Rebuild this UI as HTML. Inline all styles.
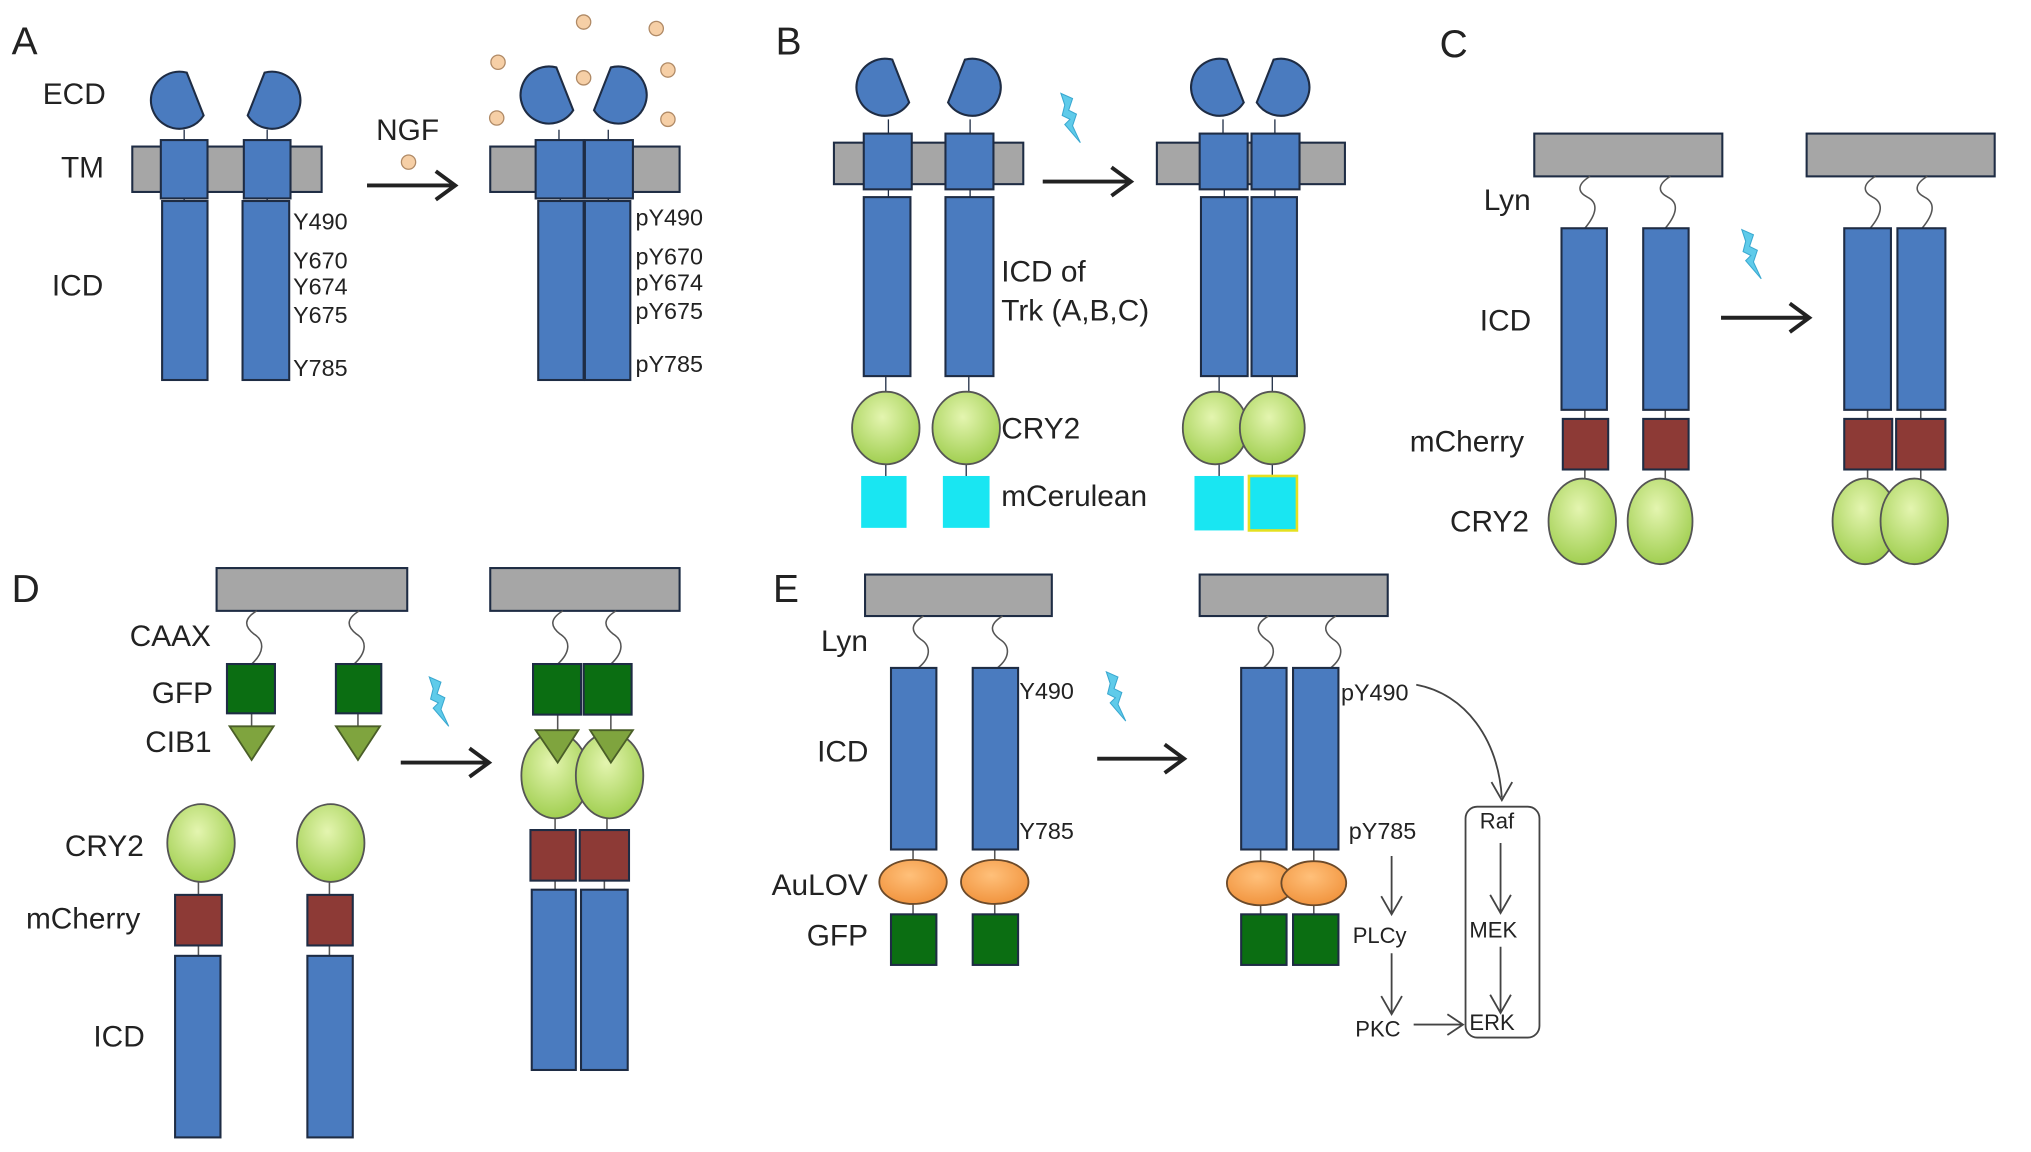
<!DOCTYPE html>
<html><head><meta charset="utf-8"><style>html,body{margin:0;padding:0;background:#fff}svg{display:block}</style></head>
<body>
<svg width="2031" height="1152" viewBox="0 0 1566 888" preserveAspectRatio="xMinYMin meet" xmlns="http://www.w3.org/2000/svg" font-family="'Liberation Sans', sans-serif" fill="#222">
<defs>
<radialGradient id="cg" cx="0.45" cy="0.35" r="0.7"><stop offset="0" stop-color="#e4f5b0"/><stop offset="1" stop-color="#9ccc4a"/></radialGradient>
<radialGradient id="og" cx="0.45" cy="0.35" r="0.7"><stop offset="0" stop-color="#ffc07a"/><stop offset="1" stop-color="#f0913a"/></radialGradient>
<path id="ecd" d="M6,-22 A22,22 0 1 0 19,11 Z" fill="#4a7bbf" stroke="#1e2c44" stroke-width="1.6"/>
<polygon id="bolt" points="0,0 9,4 6,13 12,16 9,25 15,38 3,24 7,20 1,17 3,9" fill="#5fcbea" stroke="#3aa8d0" stroke-width="0.8"/>
<circle id="bead" r="5.5" fill="#f6cfa6" stroke="#b08a66" stroke-width="1"/>
</defs>
<g stroke="#1e2c44" stroke-width="1.6">
<!-- PANEL A -->
<g fill="#a6a6a6"><rect x="102" y="113" width="146" height="35"/><rect x="378" y="113" width="146" height="35"/></g>
<g stroke-width="1" fill="none"><path d="M142,100V108M206,100V108M142,153V156M206,153V156M431,100V108M469,100V108M432,153V156M469,153V156"/></g>
<use href="#ecd" x="138" y="78"/><use href="#ecd" transform="translate(210,78) scale(-1,1)"/>
<use href="#ecd" x="423" y="74"/><use href="#ecd" transform="translate(477,74) scale(-1,1)"/>
<g fill="#4a7bbf">
<rect x="124" y="108" width="36" height="45"/><rect x="188" y="108" width="36" height="45"/>
<rect x="125" y="155" width="35" height="138"/><rect x="187" y="155" width="36" height="138"/>
<rect x="413" y="108" width="37" height="45"/><rect x="451" y="108" width="37" height="45"/>
<rect x="415" y="155" width="35" height="138"/><rect x="451" y="155" width="35" height="138"/>
</g>
<!-- PANEL B -->
<g fill="#a6a6a6"><rect x="643" y="110" width="146" height="32"/><rect x="892" y="110" width="145" height="32"/></g>
<g stroke-width="1" fill="none"><path d="M685,92V103M748,92V103M685,146V152M748,146V152M683,290V302M747,290V302M683,358V367M745,358V367M943,92V103M983,92V103M944,146V152M983,146V152M940,290V302M981,290V302M940,358V367M981,358V367"/></g>
<use href="#ecd" x="682" y="68"/><use href="#ecd" transform="translate(750,68) scale(-1,1)"/>
<use href="#ecd" x="940" y="68"/><use href="#ecd" transform="translate(988,68) scale(-1,1)"/>
<g fill="#4a7bbf">
<rect x="666" y="103" width="37" height="43"/><rect x="729" y="103" width="37" height="43"/>
<rect x="666" y="152" width="36" height="138"/><rect x="729" y="152" width="37" height="138"/>
<rect x="925" y="103" width="37" height="43"/><rect x="965" y="103" width="37" height="43"/>
<rect x="926" y="152" width="36" height="138"/><rect x="965" y="152" width="35" height="138"/>
</g>
<g fill="url(#cg)" stroke="#555" stroke-width="1.4">
<ellipse cx="683" cy="330" rx="26" ry="28"/><ellipse cx="745" cy="330" rx="26" ry="28"/>
<ellipse cx="937" cy="330" rx="25" ry="28"/><ellipse cx="981" cy="330" rx="25" ry="28"/>
</g>
<g fill="#19e6f2" stroke="none"><rect x="664" y="367" width="35" height="40"/><rect x="727" y="367" width="36" height="40"/><rect x="921" y="367" width="38" height="42"/></g>
<rect x="963" y="367" width="37" height="42" fill="#19e6f2" stroke="#e5e020" stroke-width="2"/>
<!-- PANEL C -->
<g fill="#a6a6a6"><rect x="1183" y="103" width="145" height="33"/><rect x="1393" y="103" width="145" height="33"/></g>
<g stroke="#555" stroke-width="1.2" fill="none">
<path d="M1226,136c-10,6 -10,12 -2,16c8,4 8,12 -2,24"/><path d="M1288,136c-10,6 -10,12 -2,16c8,4 8,12 -2,24"/>
<path d="M1446,136c-10,6 -10,12 -2,16c8,4 8,12 -2,24"/><path d="M1486,136c-10,6 -10,12 -2,16c8,4 8,12 -2,24"/>
<path d="M1222,316V323M1284,316V323M1222,362V370M1284,362V370M1440,316V323M1481,316V323M1440,362V370M1481,362V370"/>
</g>
<g fill="#4a7bbf"><rect x="1204" y="176" width="35" height="140"/><rect x="1267" y="176" width="35" height="140"/><rect x="1422" y="176" width="36" height="140"/><rect x="1463" y="176" width="37" height="140"/></g>
<g fill="#8d3a36"><rect x="1205" y="323" width="35" height="39"/><rect x="1267" y="323" width="35" height="39"/><rect x="1422" y="323" width="37" height="39"/><rect x="1462" y="323" width="38" height="39"/></g>
<g fill="url(#cg)" stroke="#555" stroke-width="1.4">
<ellipse cx="1220" cy="402" rx="26" ry="33"/><ellipse cx="1280" cy="402" rx="25" ry="33"/>
<ellipse cx="1438" cy="402" rx="25" ry="33"/><ellipse cx="1476" cy="402" rx="26" ry="33"/>
</g>
<!-- PANEL D -->
<g fill="#a6a6a6"><rect x="167" y="438" width="147" height="33"/><rect x="378" y="438" width="146" height="33"/></g>
<g stroke="#555" stroke-width="1.2" fill="none">
<path d="M198,471c-10,6 -10,12 -2,18c8,5 8,14 -2,23"/><path d="M277,471c-10,6 -10,12 -2,18c8,5 8,14 -2,23"/>
<path d="M434,471c-10,6 -10,12 -2,18c8,5 8,14 -2,23"/><path d="M475,471c-10,6 -10,12 -2,18c8,5 8,14 -2,23"/>
<path d="M194,550V560M276,550V560M430,551V563M471,551V563M428,630V640M468,630V640M428,679V686M466,679V686M153,680V690M254,680V690M153,729V737M254,729V737"/>
</g>
<g fill="#0b6e12"><rect x="175" y="512" width="37" height="38"/><rect x="259" y="512" width="35" height="38"/><rect x="411" y="512" width="37" height="39"/><rect x="450" y="512" width="37" height="39"/></g>
<g fill="url(#cg)" stroke="#555" stroke-width="1.4">
<ellipse cx="155" cy="650" rx="26" ry="30"/><ellipse cx="255" cy="650" rx="26" ry="30"/>
<ellipse cx="428" cy="598" rx="26" ry="33"/><ellipse cx="470" cy="598" rx="26" ry="33"/>
</g>
<g fill="#7fa43e" stroke="#4a5e28" stroke-width="1.4">
<polygon points="177,560 211,560 194,586"/><polygon points="259,560 293,560 276,586"/>
<polygon points="413,563 446,563 430,588"/><polygon points="455,563 488,563 471,588"/>
</g>
<g fill="#8d3a36"><rect x="135" y="690" width="36" height="39"/><rect x="237" y="690" width="35" height="39"/><rect x="409" y="640" width="35" height="39"/><rect x="447" y="640" width="38" height="39"/></g>
<g fill="#4a7bbf"><rect x="135" y="737" width="35" height="140"/><rect x="237" y="737" width="35" height="140"/><rect x="410" y="686" width="34" height="139"/><rect x="448" y="686" width="36" height="139"/></g>
<!-- PANEL E -->
<g fill="#a6a6a6"><rect x="667" y="443" width="144" height="32"/><rect x="925" y="443" width="145" height="32"/></g>
<g stroke="#555" stroke-width="1.2" fill="none">
<path d="M712,475c-10,6 -10,12 -2,18c8,5 8,14 -2,22"/><path d="M773,475c-10,6 -10,12 -2,18c8,5 8,14 -2,22"/>
<path d="M978,475c-10,6 -10,12 -2,18c8,5 8,14 -2,22"/><path d="M1030,475c-10,6 -10,12 -2,18c8,5 8,14 -2,22"/>
<path d="M704,655V664M767,655V664M704,697V705M767,697V705M972,655V664M1013,655V664M972,697V705M1013,697V705"/>
</g>
<g fill="#4a7bbf"><rect x="687" y="515" width="35" height="140"/><rect x="750" y="515" width="35" height="140"/><rect x="957" y="515" width="35" height="140"/><rect x="997" y="515" width="35" height="140"/></g>
<g fill="url(#og)" stroke="#6b4a2a" stroke-width="1.4">
<ellipse cx="704" cy="680" rx="26" ry="17"/><ellipse cx="767" cy="680" rx="26" ry="17"/>
<ellipse cx="972" cy="681" rx="26" ry="17"/><ellipse cx="1013" cy="681" rx="25" ry="17"/>
</g>
<g fill="#0b6e12"><rect x="687" y="705" width="35" height="39"/><rect x="750" y="705" width="35" height="39"/><rect x="957" y="705" width="35" height="39"/><rect x="997" y="705" width="35" height="39"/></g>
<!-- pathway -->
<g stroke="#444" stroke-width="1.4" fill="none">
<path d="M1092,528C1130,535 1155,570 1158,615"/><path d="M1150,603L1158,617L1166,603"/>
<rect x="1130" y="622" width="57" height="178" rx="9"/>
<path d="M1157,650V703M1149,690L1157,704L1165,690"/>
<path d="M1157,730V780M1149,767L1157,781L1165,767"/>
<path d="M1073,660V704M1065,691L1073,705L1081,691"/>
<path d="M1073,735V781M1065,768L1073,782L1081,768"/>
<path d="M1090,790H1128M1116,782L1128,790L1116,798"/>
</g>
<!-- big arrows -->
<g stroke="#222" stroke-width="3" fill="none">
<path d="M283,143H350M336,132L351,143L336,154"/>
<path d="M804,140H871M857,129L872,140L857,151"/>
<path d="M1327,245H1394M1380,234L1395,245L1380,256"/>
<path d="M309,588H376M362,577L377,588L362,599"/>
<path d="M846,585H912M898,574L913,585L898,596"/>
</g>
</g>
<use href="#bolt" x="818" y="72"/><use href="#bolt" x="1343" y="177"/><use href="#bolt" x="331" y="522"/><use href="#bolt" x="853" y="518"/>
<use href="#bead" x="315" y="125"/><use href="#bead" x="450" y="17"/><use href="#bead" x="506" y="22"/><use href="#bead" x="384" y="48"/><use href="#bead" x="515" y="54"/><use href="#bead" x="450" y="60"/><use href="#bead" x="383" y="91"/><use href="#bead" x="515" y="92"/>
<!-- text -->
<g font-size="30"><text x="9" y="42">A</text><text x="598" y="42">B</text><text x="1110" y="44">C</text><text x="9" y="464">D</text><text x="596" y="464">E</text></g>
<g font-size="23">
<text x="33" y="80">ECD</text><text x="47" y="137">TM</text><text x="40" y="228">ICD</text><text x="290" y="108">NGF</text>
<text x="772" y="217">ICD of</text><text x="772" y="247">Trk (A,B,C)</text><text x="772" y="338">CRY2</text><text x="772" y="390">mCerulean</text>
<text x="1144" y="162">Lyn</text><text x="1141" y="255">ICD</text><text x="1087" y="348">mCherry</text><text x="1118" y="410">CRY2</text>
<text x="100" y="498">CAAX</text><text x="117" y="542">GFP</text><text x="112" y="580">CIB1</text><text x="50" y="660">CRY2</text><text x="20" y="716">mCherry</text><text x="72" y="807">ICD</text>
<text x="633" y="502">Lyn</text><text x="630" y="587">ICD</text><text x="595" y="690">AuLOV</text><text x="622" y="729">GFP</text>
</g>
<g font-size="18">
<text x="226" y="177">Y490</text><text x="226" y="207">Y670</text><text x="226" y="227">Y674</text><text x="226" y="249">Y675</text><text x="226" y="290">Y785</text>
<text x="490" y="174">pY490</text><text x="490" y="204">pY670</text><text x="490" y="224">pY674</text><text x="490" y="246">pY675</text><text x="490" y="287">pY785</text>
<text x="786" y="539">Y490</text><text x="786" y="647">Y785</text><text x="1034" y="540">pY490</text><text x="1040" y="647">pY785</text>
</g>
<g font-size="17"><text x="1141" y="639">Raf</text><text x="1133" y="723">MEK</text><text x="1133" y="794">ERK</text><text x="1043" y="727">PLCy</text><text x="1045" y="799">PKC</text></g>
</svg>
</body></html>
